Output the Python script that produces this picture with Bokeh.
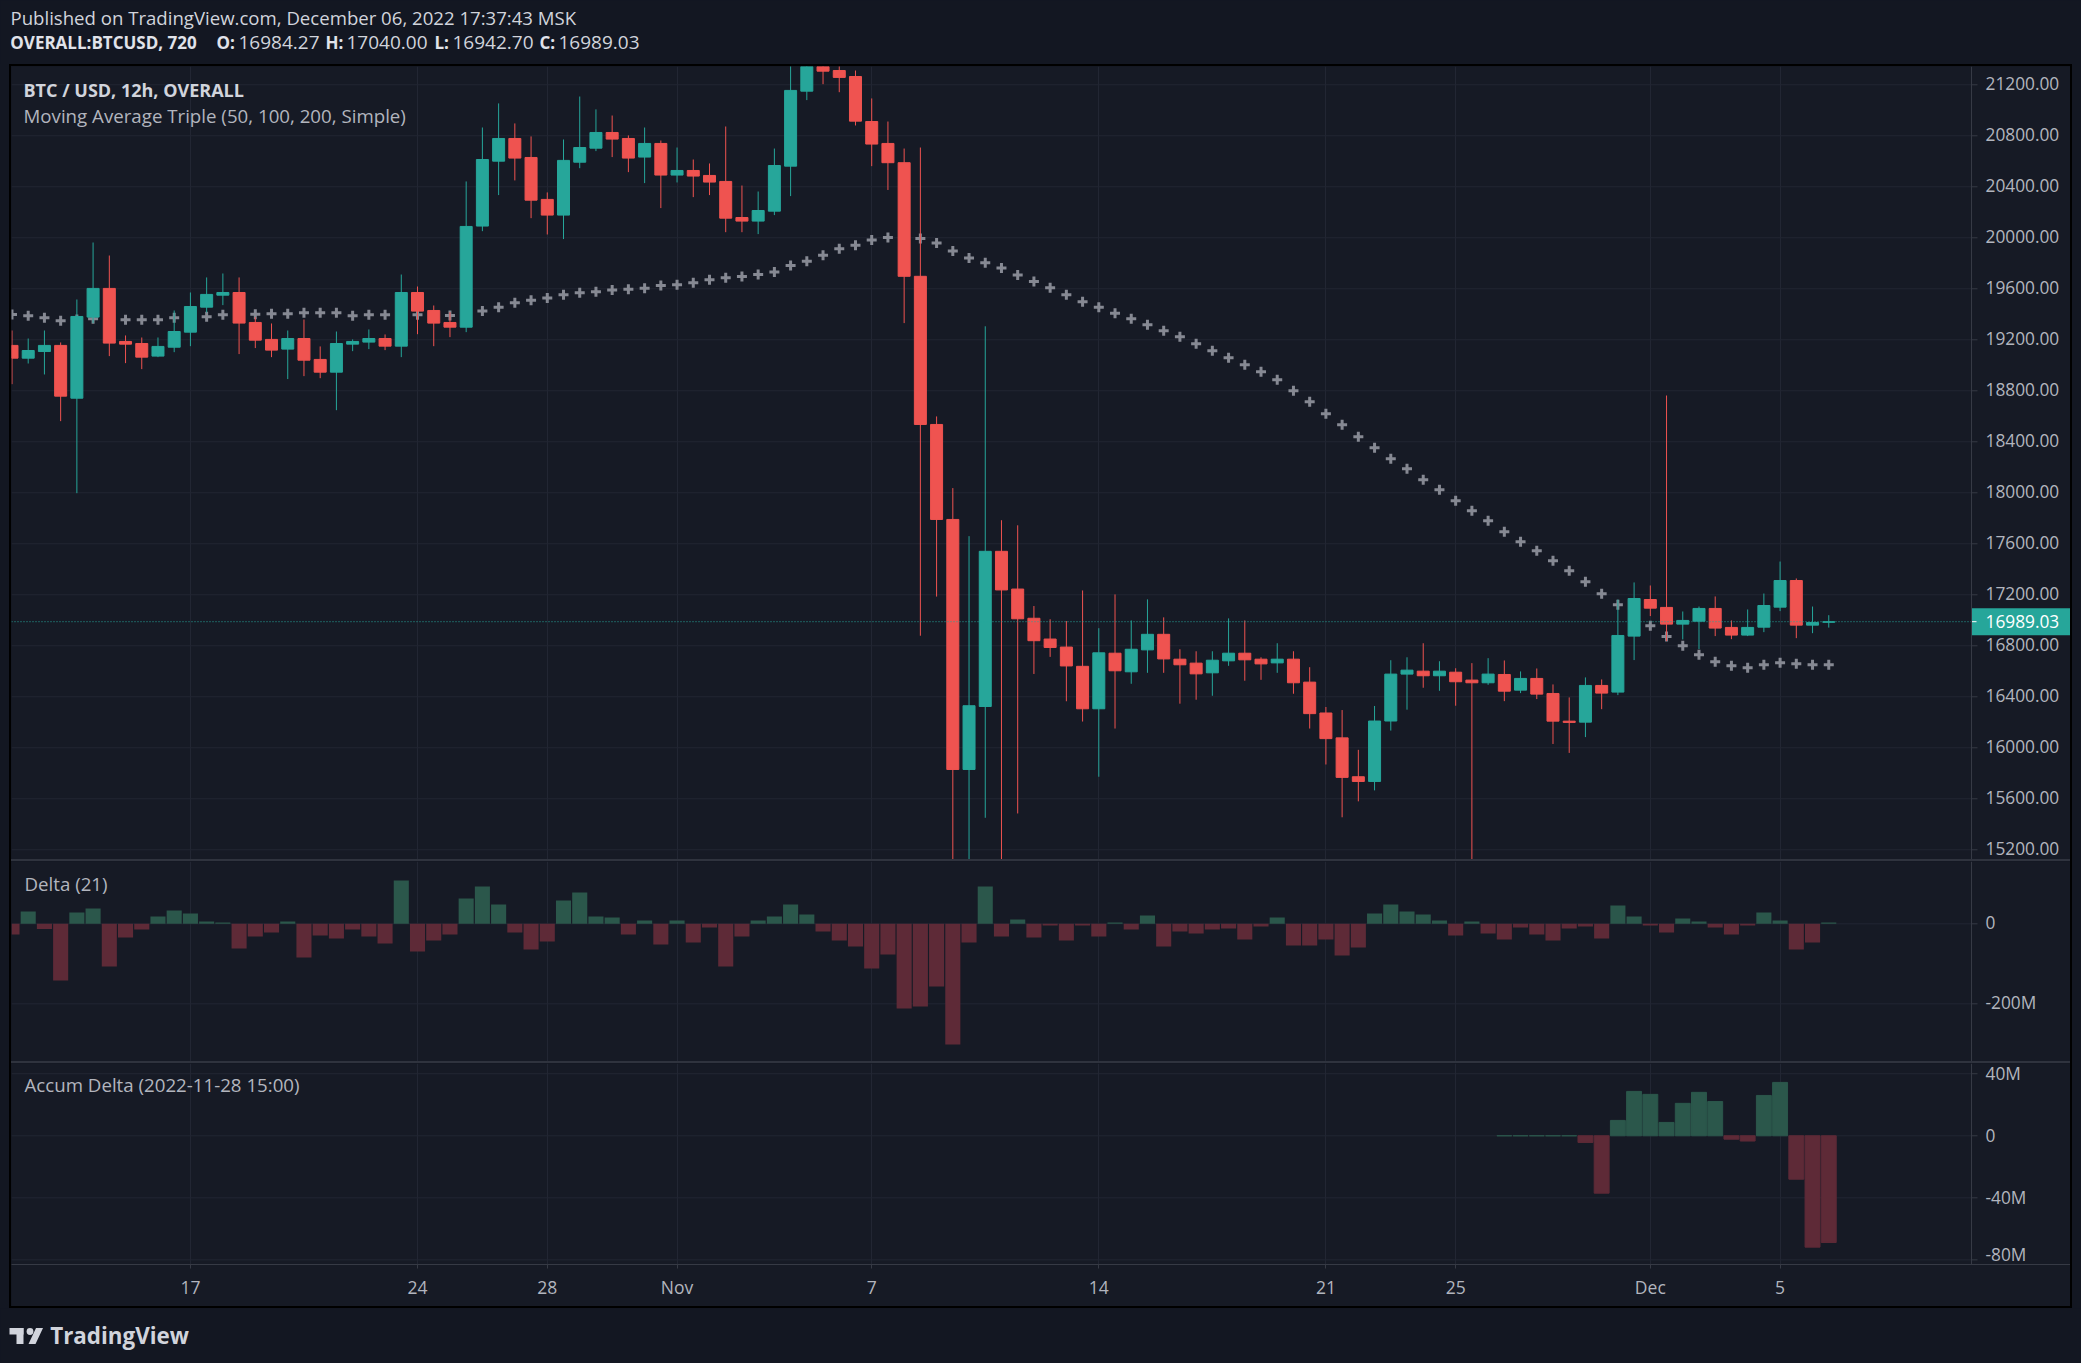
from bokeh.plotting import figure
from bokeh.models import (ColumnDataSource, Range1d, FixedTicker, Span, Label, Spacer,
                          GlobalInlineStyleSheet)
from bokeh.layouts import column, row
from bokeh.embed import file_html
from bokeh.resources import INLINE
from bokeh.core.properties import value

# ---------------- data (12h candles, 2022-10-11 12:00 .. 2022-12-06 12:00) ----------------
opens = [19156, 19056, 19108, 19156, 18742, 19378, 19603, 19187, 19171, 19072,
         19142, 19260, 19456, 19550, 19571, 19336, 19203, 19127, 19210, 19046,
         18946, 19166, 19182, 19210, 19150, 19571, 19430, 19336, 19299, 20092,
         20601, 20779, 20630, 20301, 20178, 20593, 20703, 20826, 20779, 20633,
         20740, 20492, 20528, 20489, 20442, 20159, 20131, 20209, 20562, 21150,
         21360, 21312, 21265, 20912, 20740, 20589, 19698, 18536, 17791, 15830,
         16324, 17541, 17245, 17016, 16853, 16790, 16639, 16306, 16742, 16596,
         16768, 16890, 16695, 16664, 16588, 16682, 16742, 16695, 16666, 16695,
         16515, 16273, 16078, 15773, 15736, 16210, 16578, 16601, 16565, 16593,
         16531, 16510, 16575, 16452, 16544, 16426, 16209, 16201, 16489, 16437,
         16876, 17163, 17101, 16970, 16993, 17093, 16944, 16884, 16946, 17103,
         17312, 16962, 16984.27]
highs = [19273, 19210, 19273, 19179, 19516, 19963, 19861, 19234, 19218, 19218,
         19430, 19571, 19689, 19720, 19689, 19378, 19328, 19273, 19359, 19148,
         19265, 19203, 19281, 19242, 19712, 19618, 19469, 19417, 20442, 20865,
         21054, 20897, 20795, 20356, 20771, 21108, 21007, 20959, 20803, 20865,
         20763, 20708, 20614, 20583, 20873, 20410, 20363, 20700, 21450, 21440,
         21420, 21380, 21312, 21093, 20912, 20700, 20708, 18599, 18037, 17660,
         19306, 17785, 17745, 17112, 17008, 16994, 17234, 16938, 17203, 16999,
         17164, 17023, 16773, 16757, 16757, 17015, 16999, 16710, 16820, 16757,
         16632, 16320, 16296, 15984, 16328, 16687, 16710, 16820, 16679, 16624,
         16664, 16703, 16685, 16599, 16622, 16497, 16395, 16552, 16536, 17163,
         17297, 17273, 18763, 17069, 17108, 17187, 16999, 17085, 17210, 17461,
         17328, 17108, 17040.00]
lows = [18852, 19014, 18928, 18562, 17997, 19331, 19072, 19017, 18970, 19064,
        19103, 19150, 19414, 19472, 19088, 19135, 19064, 18892, 18915, 18899,
        18648, 19111, 19127, 19119, 19064, 19244, 19150, 19221, 19260, 20052,
        20335, 20450, 20154, 20026, 19990, 20546, 20680, 20633, 20515, 20429,
        20233, 20434, 20319, 20335, 20044, 20044, 20029, 20178, 20327, 21080,
        21205, 21142, 20881, 20562, 20375, 19331, 16879, 17186, 15000, 15000,
        15451, 15000, 15485, 16579, 16713, 16365, 16206, 15773, 16151, 16502,
        16588, 16588, 16346, 16377, 16408, 16643, 16526, 16533, 16588, 16424,
        16151, 15869, 15455, 15580, 15666, 16135, 16299, 16471, 16447, 16330,
        15000, 16494, 16366, 16429, 16382, 16030, 15960, 16084, 16303, 16413,
        16688, 17033, 16837, 16850, 16774, 16876, 16852, 16876, 16907, 17072,
        16860, 16899, 16942.70]
closes = [19056, 19116, 19156, 18758, 19383, 19603, 19174, 19166, 19064, 19148,
          19265, 19461, 19556, 19571, 19331, 19197, 19119, 19210, 19040, 18946,
          19171, 19187, 19210, 19150, 19571, 19425, 19331, 19299, 20089, 20614,
          20779, 20625, 20295, 20178, 20607, 20708, 20826, 20774, 20625, 20740,
          20492, 20528, 20484, 20437, 20154, 20131, 20214, 20567, 21156, 21360,
          21307, 21258, 20915, 20735, 20589, 19698, 18536, 17791, 15830, 16330,
          17541, 17238, 17012, 16840, 16787, 16642, 16306, 16745, 16604, 16773,
          16890, 16697, 16651, 16580, 16687, 16742, 16690, 16658, 16695, 16510,
          16268, 16072, 15768, 15736, 16210, 16578, 16609, 16565, 16601, 16518,
          16510, 16578, 16444, 16544, 16421, 16209, 16199, 16489, 16429, 16881,
          17171, 17095, 16970, 16999, 17093, 16939, 16884, 16944, 17116, 17312,
          16962, 16983, 16989.03]
ma_line = [19399, 19388, 19373, 19349, 19360, 19365, 19360, 19357, 19357, 19357,
           19373, 19378, 19380, 19396, 19398, 19401, 19404, 19404, 19412, 19412,
           19412, 19388, 19396, 19396, 19396, 19396, 19393, 19391, 19408, 19425,
           19456, 19490, 19511, 19527, 19553, 19569, 19576, 19590, 19597, 19605,
           19626, 19631, 19647, 19671, 19686, 19697, 19712, 19731, 19783, 19817,
           19864, 19914, 19942, 19982, 20003, 20000, 19994, 19960, 19897, 19842,
           19805, 19764, 19709, 19657, 19609, 19553, 19498, 19456, 19408, 19365,
           19318, 19271, 19224, 19169, 19114, 19059, 19004, 18949, 18886, 18800,
           18714, 18620, 18533, 18439, 18353, 18267, 18188, 18102, 18024, 17937,
           17860, 17781, 17694, 17616, 17545, 17467, 17388, 17302, 17208, 17122,
           17040, 16957, 16873, 16800, 16729, 16675, 16643, 16627, 16651, 16667,
           16659, 16651, 16651]
delta_m = [-26.7, 30.8, -13.3, -141.7, 28.3, 38.3, -106.7, -34.2, -14.2, 18.3,
           33.3, 25.8, 5.8, 3.3, -61.7, -31.7, -21.7, 5.8, -84.2, -29.2,
           -36.7, -14.2, -31.7, -49.2, 108.3, -69.2, -41.7, -26.7, 63.3, 93.3,
           48.3, -21.7, -64.2, -44.2, 58.3, 78.3, 18.3, 15.8, -26.7, 8.3,
           -51.7, 8.3, -46.7, -9.2, -106.7, -31.7, 8.3, 18.3, 48.3, 23.3,
           -19.2, -41.7, -56.7, -111.7, -76.7, -211.7, -206.7, -156.7, -301.7, -46.7,
           93.3, -31.7, 10.8, -34.2, -4.2, -41.7, -4.2, -31.7, 3.3, -14.2,
           20.8, -56.7, -19.2, -24.2, -14.2, -11.7, -39.2, -6.7, 15.8, -54.2,
           -54.2, -39.2, -79.2, -59.2, 25.8, 48.3, 30.8, 23.3, 8.3, -29.2,
           5.8, -24.2, -39.2, -9.2, -26.7, -41.7, -11.7, -6.7, -36.7, 45.8,
           18.3, -4.2, -21.7, 13.3, 5.8, -9.2, -26.7, -4.2, 28.3, 8.3,
           -64.2, -46.7, 3.3]
accum_first = 92
accum_m = [0, 0, 0, 0, 0, -4.3, -37.0, 9.9, 28.6, 26.7, 8.6, 20.9, 28.0, 22.1,
           -2.2, -3.4, 26.0, 34.4, -28.0, -71.8, -68.8]
time_tick_idx = [11, 25, 33, 41, 53, 67, 81, 89, 101, 109]
time_tick_labels = ["17", "24", "28", "Nov", "7", "14", "21", "25", "Dec", "5"]
price_ticks = [15200, 15600, 16000, 16400, 16800, 17200, 17600, 18000, 18400,
               18800, 19200, 19600, 20000, 20400, 20800, 21200]
price_tick_labels = ["15200.00", "15600.00", "16000.00", "16400.00", "16800.00", "17200.00",
                     "17600.00", "18000.00", "18400.00", "18800.00", "19200.00", "19600.00",
                     "20000.00", "20400.00", "20800.00", "21200.00"]
delta_ticks = [0, -200]
delta_tick_labels = ["0", "-200M"]
accum_ticks = [40, 0, -40, -80]
accum_tick_labels = ["40M", "0", "-40M", "-80M"]
last_price = closes[-1]

# ---------------- style ----------------
FONT = "Open Sans"
PAGE_BG = "#131722"
BG = "#161a25"
GRID = "#222633"
AXIS = "#363a45"
SEP = "#2f333e"
TXT = "#b2b5be"
TXT_HI = "#d1d4dc"
UP = "#26a69a"
DOWN = "#ef5350"
MA_COL = "#868993"
D_UP = "#2b574b"
D_DN = "#5e2a37"

W_PAGE = 2081
W_FRAME, W_AXIS = 1960, 99
W_CHART = W_FRAME + W_AXIS
H_HDR, H_PRICE, H_DELTA, H_ACC, H_TAX, H_FTR = 64, 793, 200, 201, 42, 54

X0, X1 = -0.03, 120.8
XPX = (X1 - X0) / W_FRAME          # data units per pixel along x
X1E = X1 + W_AXIS * XPX            # every pane frame also holds its price-scale strip
P1 = 21343.5
P0 = P1 - H_PRICE / 0.1275
D1, D0 = 155.75, -344.25
A1, A0 = 46.6, -83.0

xr = Range1d(X0, X1E)
n = len(opens)
idx = list(range(n))


def fx(ref_x):
    return X0 + (ref_x - 11) * XPX


def pane(h, y0, y1, ticks, labels, bottom=0, lift=None):
    p = figure(width=W_CHART, height=h + bottom, x_range=xr, y_range=Range1d(y0, y1),
               output_backend="svg", toolbar_location=None,
               x_axis_location=("below" if bottom else None), y_axis_location=None,
               min_border_left=0, min_border_right=0, min_border_top=0,
               min_border_bottom=bottom)
    p.background_fill_color = BG
    p.border_fill_color = BG
    p.outline_line_color = None
    p.xgrid.ticker = FixedTicker(ticks=time_tick_idx)
    p.xgrid.grid_line_color = GRID
    p.ygrid.visible = False
    ypx = (y1 - y0) / h
    lift = lift or [1] * len(ticks)
    src = ColumnDataSource(dict(y=ticks, lab=labels,
                                ly=[t + k * ypx for t, k in zip(ticks, lift)]))
    # price-scale: grid lines, axis line, tick marks, labels
    p.segment(x0=X0, x1=X1, y0="y", y1="y", source=src, line_color=GRID, line_width=1)
    p.add_layout(Span(location=X1, dimension="height", line_color=AXIS, line_width=1))
    p.segment(x0=X1, x1=X1 + 6 * XPX, y0="y", y1="y", source=src, line_color=AXIS,
              line_width=1)
    p.text(x=X1 + 14 * XPX, y="ly", text="lab", source=src, text_font=value(FONT),
           text_font_size="17.3px", text_color=TXT, text_baseline="middle", text_align="left")
    return p, ypx


def txt(p, x, y, text, size="18.7px", color=TXT, bold=False):
    p.add_layout(Label(x=x, y=y, text=text, text_font=FONT, text_font_size=size,
                       text_color=color, text_baseline="alphabetic", text_align="left",
                       text_font_style=("bold" if bold else "normal")))


# ---------------- price pane ----------------
pp, PPX = pane(H_PRICE, P0, P1, price_ticks, price_tick_labels)


def fp(ref_y):
    return P1 - (ref_y - 66) * PPX


colors = [UP if c >= o else DOWN for o, c in zip(opens, closes)]
csrc = ColumnDataSource(dict(x=idx, o=opens, h=highs, l=lows, c=closes,
                             top=[max(o, c) for o, c in zip(opens, closes)],
                             bot=[min(o, c) for o, c in zip(opens, closes)],
                             col=colors, ma=ma_line))
pp.scatter("x", "ma", source=csrc, marker="cross", size=10, line_width=3, line_color=MA_COL)
pp.segment(x0="x", y0="l", x1="x", y1="h", source=csrc, line_color="col", line_width=1)
pp.vbar(x="x", width=0.74, top="top", bottom="bot", source=csrc,
        fill_color="col", line_color="col", line_width=1)

# last price: dotted line + tag on the price scale
pp.segment(x0=X0, x1=X1, y0=last_price, y1=last_price, line_color=UP, line_dash="1 2",
           line_width=1)
pp.quad(left=X1, right=X1E, top=last_price + 13.5 * PPX, bottom=last_price - 13.5 * PPX,
        fill_color=UP, line_color=None)
pp.segment(x0=X1, x1=X1 + 5 * XPX, y0=last_price, y1=last_price, line_color="#ffffff",
           line_width=1)
pp.text(x=[X1 + 14 * XPX], y=[last_price], text=[f"{last_price:.2f}"], text_font=value(FONT),
        text_font_size="17.3px", text_color="#ffffff", text_baseline="middle",
        text_align="left")

txt(pp, fx(23), fp(89.3), "BTC / USD, 12h, OVERALL", size="18px", color=TXT_HI, bold=True)
txt(pp, fx(23), fp(115), "Moving Average Triple (50, 100, 200, Simple)")

# ---------------- delta pane ----------------
dp, DPX = pane(H_DELTA, D0, D1, delta_ticks, delta_tick_labels)
dsrc = ColumnDataSource(dict(x=idx, top=[max(0, v) for v in delta_m],
                             bot=[min(0, v) for v in delta_m],
                             col=[D_UP if v >= 0 else D_DN for v in delta_m]))
dp.vbar(x="x", width=0.93, top="top", bottom="bot", source=dsrc, fill_color="col", line_color=None)
txt(dp, fx(24), D1 - (882.5 - 861) * DPX, "Delta (21)")

# ---------------- accum delta pane (with time axis) ----------------
ap, APX = pane(H_ACC, A0, A1, accum_ticks, accum_tick_labels, bottom=H_TAX, lift=[0, 0, 0, 5])
aidx = list(range(accum_first, accum_first + len(accum_m)))
asrc = ColumnDataSource(dict(x=aidx, top=[max(0, v) for v in accum_m],
                             bot=[min(0, v) for v in accum_m],
                             col=[D_UP if v >= 0 else D_DN for v in accum_m]))
ap.vbar(x="x", width=0.92, top="top", bottom="bot", source=asrc, fill_color="col",
        line_color="col", line_width=1)
txt(ap, fx(24), A1 - (1084 - 1063) * APX, "Accum Delta (2022-11-28 15:00)")
xa = ap.xaxis[0]
xa.ticker = FixedTicker(ticks=time_tick_idx)
xa.major_label_overrides = dict(zip(time_tick_idx, time_tick_labels))
xa.axis_line_color = AXIS
xa.major_tick_line_color = AXIS
xa.major_tick_out = 4
xa.major_tick_in = 0
xa.minor_tick_line_color = None
xa.major_label_standoff = 6
xa.major_label_text_color = TXT
xa.major_label_text_font = FONT
xa.major_label_text_font_size = "17.5px"


# ---------------- header & footer ----------------
def flat(h):
    f = figure(width=W_PAGE, height=h, x_range=Range1d(0, W_PAGE), y_range=Range1d(h, 0),
               output_backend="svg", toolbar_location=None, x_axis_location=None,
               y_axis_location=None, min_border=0)
    f.background_fill_color = PAGE_BG
    f.border_fill_color = PAGE_BG
    f.outline_line_color = None
    f.xgrid.visible = False
    f.ygrid.visible = False
    return f


hdr = flat(H_HDR)
txt(hdr, 10, 17.3, "Published on TradingView.com, December 06, 2022 17:37:43 MSK",
    size="18.6px", color=TXT_HI)
hdr_parts = [(9.8, "OVERALL:BTCUSD, 720", True), (216, "O:", True), (238, f"{opens[-1]:.2f}", False),
             (325, "H:", True), (346, f"{highs[-1]:.2f}", False), (434, "L:", True),
             (452, f"{lows[-1]:.2f}", False), (539, "C:", True), (558, f"{closes[-1]:.2f}", False)]
for hx, ht, hb in hdr_parts:
    txt(hdr, hx, 42.3, ht, size=("17px" if hb else "19px"),
        color=("#e1e3ea" if hb else TXT_HI), bold=hb)

ftr = flat(H_FTR)
ftr.quad(left=[9, 16], right=[23, 23], top=[19.5, 19.5], bottom=[26, 35.5],
         fill_color=TXT_HI, line_color=None)
ftr.circle(x=[29.5], y=[23], radius=3.4, fill_color=TXT_HI, line_color=None)
ftr.patch(x=[28, 35, 42.5, 35.5], y=[35.5, 35.5, 19.5, 19.5], fill_color=TXT_HI, line_color=None)
txt(ftr, 49.7, 26.5, "TradingView", size="22.4px", color=TXT_HI, bold=True)


# ---------------- layout ----------------
def box(w, h, color):
    return Spacer(width=w, height=h, styles={"background-color": color})


H_BLOCK = 2 + H_PRICE + 2 + H_DELTA + 2 + H_ACC + H_TAX + 2
chart_col = column(box(W_CHART, 2, "#000000"), pp, box(W_CHART, 2, SEP), dp,
                   box(W_CHART, 2, SEP), ap, box(W_CHART, 2, "#000000"))
chart_row = row(box(9, H_BLOCK, PAGE_BG), box(2, H_BLOCK, "#000000"), chart_col,
                box(2, H_BLOCK, "#000000"), box(9, H_BLOCK, PAGE_BG))
root = column(hdr, chart_row, ftr,
              stylesheets=[GlobalInlineStyleSheet(css="html, body { background-color: #131722; }")])

open("out.html", "w").write(file_html(root, INLINE))
